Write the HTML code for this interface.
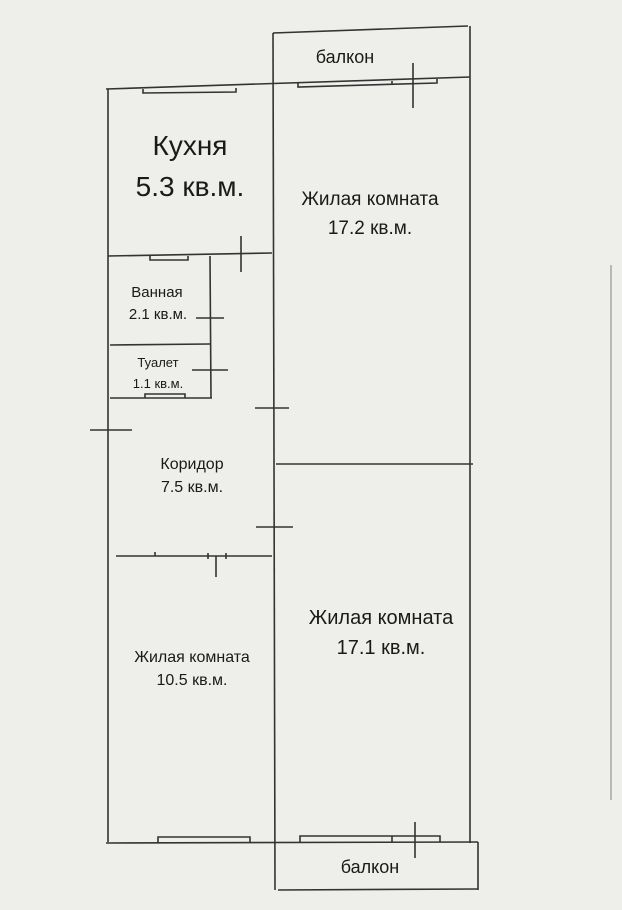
<!DOCTYPE html>
<html><head><meta charset="utf-8"><style>
html,body{margin:0;padding:0;background:#eeeeeb;}
svg{display:block}
text{font-family:"Liberation Sans",sans-serif;fill:#1a1a1a;text-anchor:middle}
</style></head><body>
<svg width="622" height="910" viewBox="0 0 622 910" xmlns="http://www.w3.org/2000/svg">
<rect width="622" height="910" fill="#eeeeeb"/>
<g stroke="#333" stroke-width="1.6" fill="none">
<!-- outer -->
<line x1="106" y1="89" x2="470" y2="77"/>
<line x1="108" y1="89" x2="108" y2="842"/>
<line x1="273" y1="33" x2="468" y2="26"/>
<line x1="470" y1="26" x2="470" y2="843"/>
<line x1="273" y1="33" x2="275" y2="890"/>
<line x1="276" y1="464" x2="473" y2="464"/>
<line x1="106" y1="843" x2="478" y2="842"/>
<line x1="478" y1="842" x2="478" y2="890"/>
<line x1="278" y1="890" x2="478" y2="889"/>
<line x1="611" y1="265" x2="611" y2="800" stroke="#aaa"/>
<!-- inner -->
<line x1="108" y1="256" x2="272" y2="253"/>
<line x1="210" y1="256" x2="211" y2="398"/>
<line x1="110" y1="345" x2="210" y2="344"/>
<line x1="110" y1="398" x2="212" y2="398"/>
<line x1="116" y1="556" x2="272" y2="556"/>
<!-- windows -->
<polyline points="143,89 143,93 236,92 236,88"/>
<polyline points="298,82 298,87 437,83 437,79"/>
<line x1="392" y1="81" x2="392" y2="84"/>
<polyline points="158,843 158,837 250,837 250,843"/>
<polyline points="300,842 300,836 440,836 440,842"/>
<line x1="392" y1="836" x2="392" y2="842"/>
<polyline points="150,256 150,260 188,260 188,256"/>
<polyline points="145,398 145,394 185,394 185,398"/>
<!-- door ticks -->
<line x1="413" y1="63" x2="413" y2="108"/>
<line x1="241" y1="236" x2="241" y2="272"/>
<line x1="196" y1="318" x2="224" y2="318"/>
<line x1="192" y1="370" x2="228" y2="370"/>
<line x1="255" y1="408" x2="289" y2="408"/>
<line x1="90" y1="430" x2="132" y2="430"/>
<line x1="256" y1="527" x2="293" y2="527"/>
<line x1="216" y1="556" x2="216" y2="577"/>
<line x1="155" y1="552" x2="155" y2="556"/>
<line x1="208" y1="553" x2="208" y2="559"/>
<line x1="226" y1="553" x2="226" y2="559"/>
<line x1="415" y1="822" x2="415" y2="858"/>
</g>
<text x="190" y="155" font-size="28">Кухня</text>
<text x="190" y="196" font-size="28">5.3 кв.м.</text>
<text x="370" y="205" font-size="19">Жилая комната</text>
<text x="370" y="234" font-size="19">17.2 кв.м.</text>
<text x="157" y="297" font-size="15">Ванная</text>
<text x="158" y="319" font-size="15">2.1 кв.м.</text>
<text x="158" y="367" font-size="13">Туалет</text>
<text x="158" y="388" font-size="13">1.1 кв.м.</text>
<text x="192" y="469" font-size="16">Коридор</text>
<text x="192" y="492" font-size="16">7.5 кв.м.</text>
<text x="192" y="662" font-size="16">Жилая комната</text>
<text x="192" y="685" font-size="16">10.5 кв.м.</text>
<text x="381" y="624" font-size="20">Жилая комната</text>
<text x="381" y="654" font-size="20">17.1 кв.м.</text>
<text x="345" y="63" font-size="18">балкон</text>
<text x="370" y="873" font-size="18">балкон</text>
</svg>
</body></html>
